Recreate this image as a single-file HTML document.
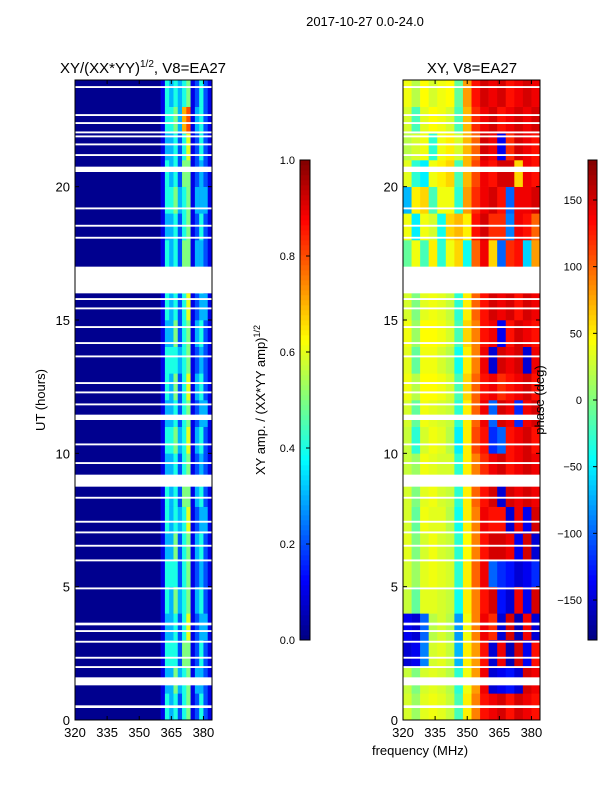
<!DOCTYPE html>
<html><head><meta charset="utf-8"><style>
body{margin:0;background:#fff;width:600px;height:800px;overflow:hidden;font-family:"Liberation Sans",sans-serif}
svg text{font-family:"Liberation Sans","DejaVu Sans",sans-serif}
</style></head><body>
<svg id="fig" width="600" height="800" viewBox="0 0 600 800">
<text x="365" y="26" font-size="13" text-anchor="middle">2017-10-27 0.0-24.0</text>
<text x="143" y="73" font-size="15" text-anchor="middle">XY/(XX*YY)<tspan font-size="10" dy="-6">1/2</tspan><tspan dy="6">, V8=EA27</tspan></text>
<text x="472" y="73" font-size="15" text-anchor="middle">XY, V8=EA27</text>
<g id="ampPanel"></g>
<g id="phPanel"></g>
<g id="axes"></g>
<text transform="translate(45,400) rotate(-90)" font-size="13" text-anchor="middle">UT (hours)</text>
<text transform="translate(265,400) rotate(-90)" font-size="13" text-anchor="middle">XY amp. / (XX*YY amp)<tspan font-size="9" dy="-5">1/2</tspan></text>
<text transform="translate(544,400) rotate(-90)" font-size="13" text-anchor="middle">phase (deg)</text>
<text x="420" y="755" font-size="13" text-anchor="middle">frequency (MHz)</text>
</svg>
<script>
// ---- data ----
const xTicks=[320,335,350,365,380];
const yTicks=[0,5,10,15,20];
const ampTicks=[0.0,0.2,0.4,0.6,0.8,1.0];
const phTicks=[-150,-100,-50,0,50,100,150];
// amplitude: 24 hourly rows (0h..23h), 12 bins 360-384 MHz (digit = value*10)
const ampRows=["143424512421","133534513321","144425512421","133424612331","143534513421","144424512321",
"133524513421","143434612331","143425513421","133424512321","144534613421","133424512331",
"143524613421","144434512321","133524513421","143424612331","144535713421","143425513321",
"133424512421","144534513331","143425512321","133424612421","144537813421","143434512421"];
// phase: 24 hourly rows, 16 bins 320-384 MHz (degrees)
const phRows=[
[30,10,35,40,35,25,-20,50,90,130,140,150,130,150,140,130],
[25,0,30,35,30,20,-30,40,80,140,-150,-140,-130,-150,150,140],
[-150,-140,-90,30,35,25,-70,50,80,130,-150,140,-160,150,-140,130],
[-140,-150,-100,20,30,20,-80,40,90,140,120,-150,150,-160,140,-150],
[25,-10,35,35,30,25,-40,50,90,130,150,-130,-150,140,-140,150],
[30,10,35,40,35,30,-30,50,100,140,-100,-120,-130,-150,-140,-120],
[35,0,30,40,30,25,-30,45,90,130,150,150,140,-140,150,-150],
[30,-10,40,35,35,20,-40,50,90,140,130,130,-150,140,-140,150],
[30,0,35,40,30,25,-30,50,100,130,150,-150,150,140,150,140],
[25,10,40,35,30,30,-30,50,90,120,140,150,130,140,150,140],
[25,-30,30,40,35,20,-50,50,110,130,-120,-100,130,140,150,130],
[30,-10,40,35,30,25,-30,50,100,140,-100,150,140,-120,140,150],
[40,20,45,45,40,30,-20,60,100,130,140,120,130,140,150,130],
[35,-10,40,40,30,20,-40,50,90,140,-150,150,140,150,-150,140],
[40,10,45,45,40,30,-20,60,90,130,140,-140,130,150,140,130],
[30,0,35,40,35,25,-30,50,100,130,150,140,150,130,150,140],
[30,-10,40,35,30,25,-30,50,90,130,140,150,130,150,140,130],
[-10,40,-20,50,-30,40,60,-40,100,140,60,-100,120,130,-60,80],
[40,-50,40,30,-40,60,70,50,130,150,120,120,-90,140,130,100],
[-70,50,60,-20,40,40,-30,80,120,140,150,130,-100,140,140,150],
[35,-30,-50,40,50,60,-20,70,110,140,130,150,150,60,140,130],
[20,30,40,-30,40,50,30,70,100,150,140,-140,120,150,140,130],
[30,-20,35,45,40,30,-20,70,120,140,150,130,140,150,140,150],
[40,20,45,30,40,45,-10,80,130,150,140,150,130,140,150,140]];
// flagged (white) UT intervals [start,end] in hours
const gapStart=[0.45,1.3,1.95,2.3,2.9,3.3,3.55,4.9,5.95,6.5,7.0,7.4,8.3,8.75,9.6,10.3,11.25,11.8,12.25,12.6,13.6,14.1,14.7,15.4,15.75,16.0,18.05,18.5,19.15,20.55,21.15,21.55,21.85,22.0,22.35,22.65,23.7];
const gapEnd  =[0.55,1.6,2.02,2.37,2.97,3.37,3.65,4.97,6.02,6.57,7.07,7.47,8.37,9.2,9.67,10.37,11.45,11.87,12.32,12.67,13.67,14.17,14.77,15.47,15.82,17.0,18.12,18.57,19.22,20.75,21.22,21.62,21.92,22.07,22.42,22.72,23.77];

// ---- axes ----
const P1={x0:75,x1:212},P2={x0:403,x1:540},Y0=720,Y1=80;
const fx=(p,f)=>p.x0+(f-320)/(384-320)*(p.x1-p.x0);
const fy=h=>Y0-(h/24)*(Y0-Y1);
const cbY=v=>640-v*480;
const pY=d=>640-(d+180)/360*480;
function jet(v){v=Math.max(0,Math.min(1,v));
 const c=x=>Math.round(255*Math.max(0,Math.min(1,1.5-Math.abs(4*v-x))));
 return `rgb(${c(3)},${c(2)},${c(1)})`;}
const NS="http://www.w3.org/2000/svg";
function mk(tag,at,parent){const e=document.createElementNS(NS,tag);for(const k in at)e.setAttribute(k,at[k]);parent.appendChild(e);return e;}
const amp=document.getElementById('ampPanel'),ph=document.getElementById('phPanel'),ax=document.getElementById('axes');
let bg=mk('rect',{x:P1.x0,y:Y1,width:P1.x1-P1.x0,height:Y0-Y1,fill:'rgb(0,0,143)'},amp);


ampRows.forEach((row,i)=>{[...row].forEach((d,j)=>{
 const f0=360+j*2;
 const r=mk('rect',{x:fx(P1,f0),y:fy(i+1),width:fx(P1,f0+2)-fx(P1,f0)+0.3,height:fy(i)-fy(i+1)+0.3,fill:jet(+d/10)},amp);
 
 
});});
phRows.forEach((row,i)=>{row.forEach((d,j)=>{
 const f0=320+j*4;
 const r=mk('rect',{x:fx(P2,f0),y:fy(i+1),width:fx(P2,f0+4)-fx(P2,f0)+0.3,height:fy(i)-fy(i+1)+0.3,fill:jet((d+180)/360)},ph);
 
 
});});
gapStart.forEach((s,k)=>{[P1,P2].forEach(p=>{
 const r=mk('rect',{x:p.x0,y:fy(gapEnd[k]),width:p.x1-p.x0,height:fy(s)-fy(gapEnd[k]),fill:'#fff'},p===P1?amp:ph);
 
 
});});
[P1,P2].forEach((p,pi)=>{
 const f=mk('rect',{x:p.x0,y:Y1,width:p.x1-p.x0,height:Y0-Y1,fill:'none',stroke:'#000','stroke-width':1},ax);
 
 
 xTicks.forEach(t=>{const x=fx(p,t);
  mk('line',{x1:x,x2:x,y1:Y0,y2:Y0-4,stroke:'#000'},ax);mk('line',{x1:x,x2:x,y1:Y1,y2:Y1+4,stroke:'#000'},ax);
  const tx=mk('text',{x:x,y:Y0+17,'font-size':13,'text-anchor':'middle'},ax);tx.textContent=t;
  
  });
 yTicks.forEach(t=>{const y=fy(t);
  mk('line',{x1:p.x0,x2:p.x0+4,y1:y,y2:y,stroke:'#000'},ax);mk('line',{x1:p.x1,x2:p.x1-4,y1:y,y2:y,stroke:'#000'},ax);
  const tx=mk('text',{x:p.x0-5,y:y+5,'font-size':13,'text-anchor':'end'},ax);tx.textContent=t;
  
  });
});
function cbar(x,w,name){
 for(let i=0;i<96;i++){const r=mk('rect',{x:x,y:640-(i+1)*5,width:w,height:5.3,fill:jet((i+0.5)/96)},ax);
  
  }
 const f=mk('rect',{x:x,y:160,width:w,height:480,fill:'none',stroke:'#000'},ax);
 
 
}
cbar(300,10,'amp-colorbar');cbar(588,9,'phase-colorbar');
ampTicks.forEach(t=>{const y=cbY(t);mk('line',{x1:306,x2:310,y1:y,y2:y,stroke:'#000'},ax);
 const tx=mk('text',{x:295,y:y+4,'font-size':11,'text-anchor':'end'},ax);tx.textContent=t.toFixed(1);
 
 });
phTicks.forEach(t=>{const y=pY(t);mk('line',{x1:593,x2:597,y1:y,y2:y,stroke:'#000'},ax);
 const tx=mk('text',{x:582,y:y+4,'font-size':11,'text-anchor':'end'},ax);tx.textContent=t<0?'\u2212'+(-t):t;
 
 });
</script>
</body></html>
